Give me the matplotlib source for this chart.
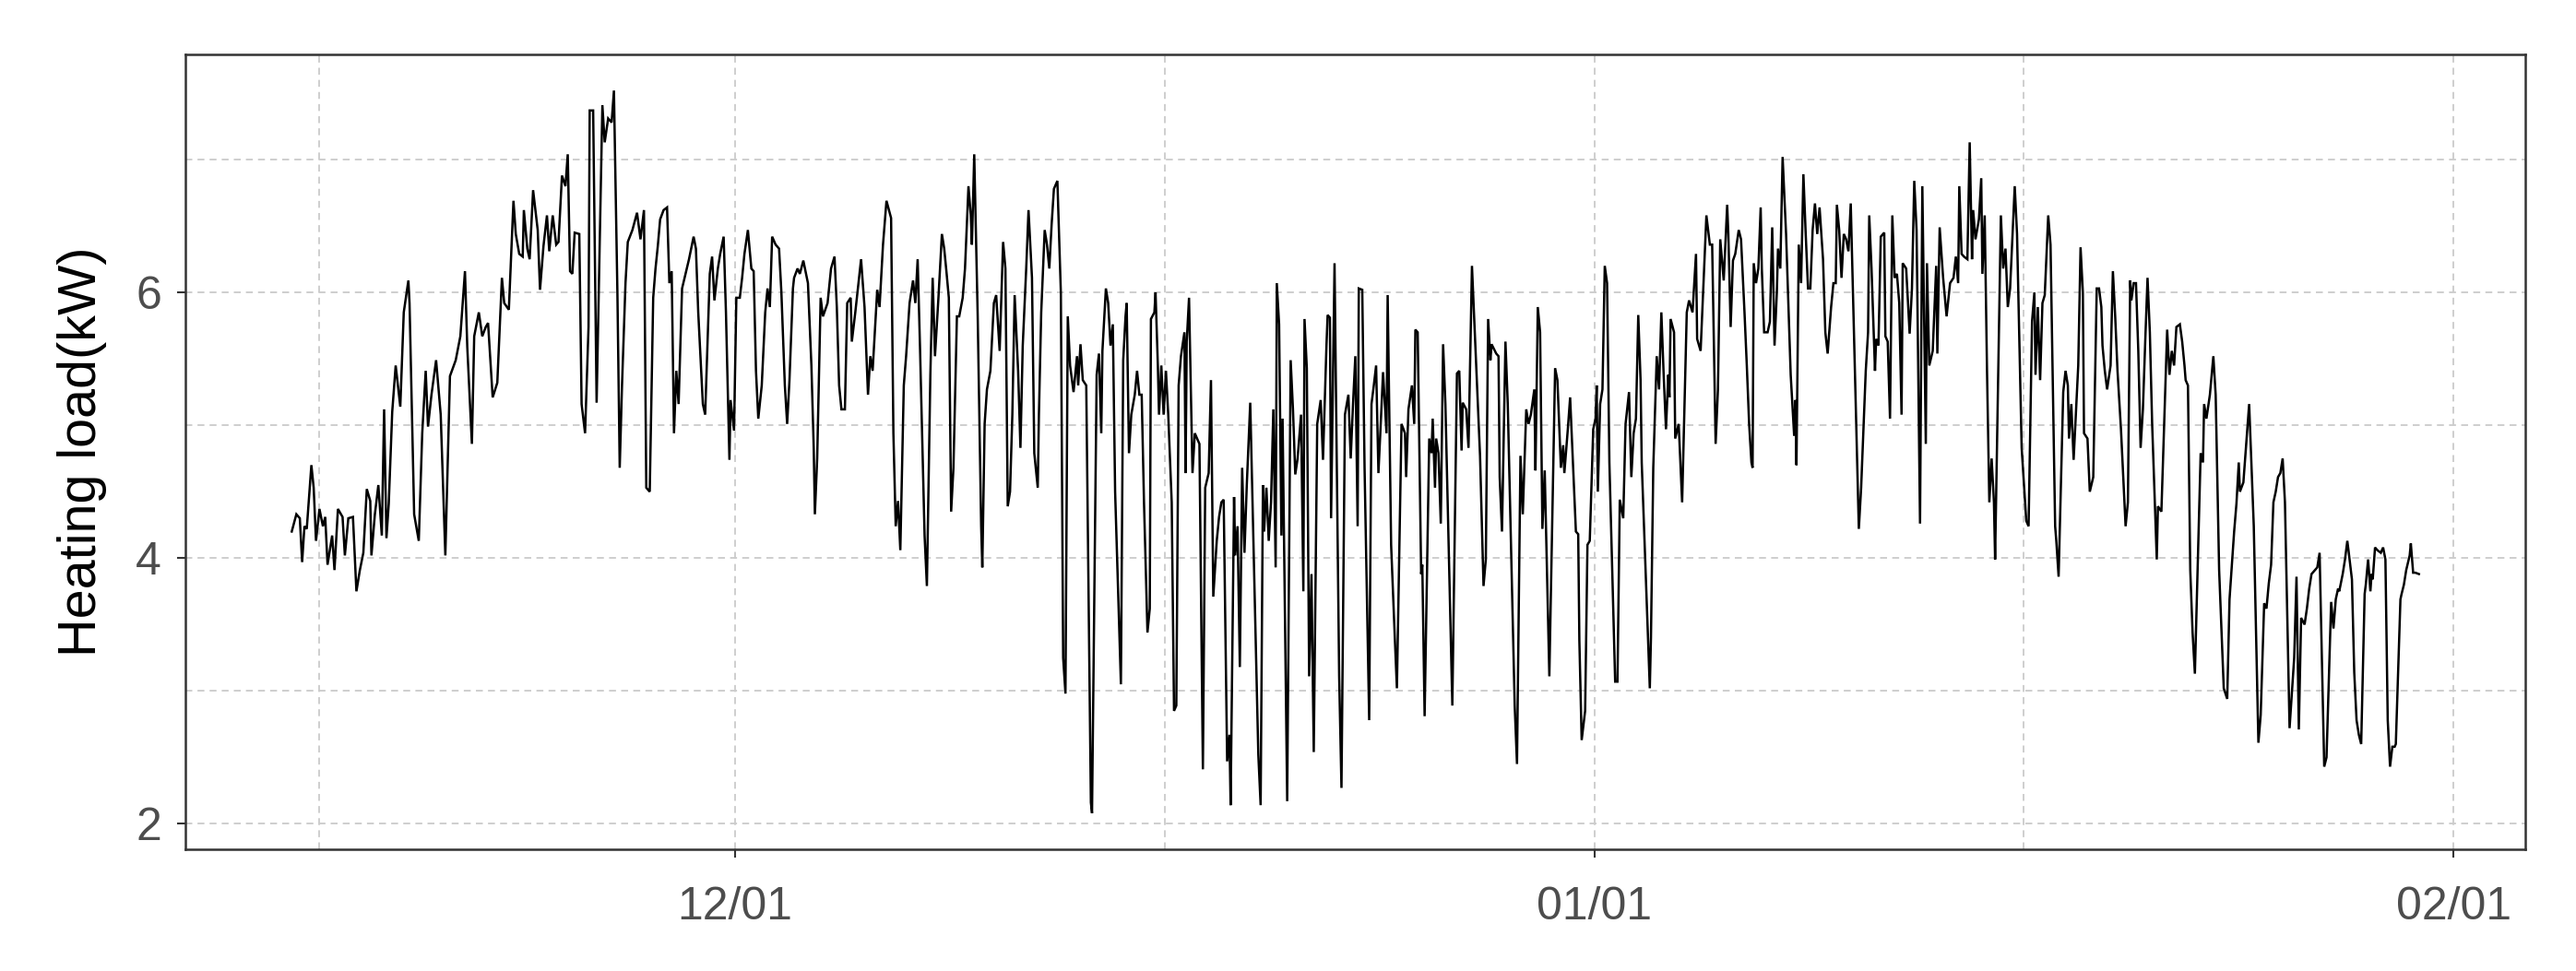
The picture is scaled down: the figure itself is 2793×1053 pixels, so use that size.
import numpy as np
import pandas as pd
import matplotlib
matplotlib.use("Agg")
import matplotlib.pyplot as plt
import matplotlib.dates as mdates
from matplotlib.ticker import FixedLocator

# ---------------- data ----------------
start_time = "2019-11-15 00:00"

hours = [
    0, 4, 7, 9, 11, 13, 17, 19, 21, 24, 27, 29, 31, 35, 37, 40, 44, 46, 49, 53, 56, 59, 62, 65, 68, 69, 72, 75, 78, 80,
    82, 84, 87, 90, 94, 97, 101, 102, 106, 110, 113, 116, 118, 121, 125, 129, 133, 137, 142, 146,
    150, 152, 156, 158, 162, 165, 168, 170, 174, 178, 182, 184, 188, 192, 194, 197, 200, 201, 204, 206, 209, 213, 215,
    218, 221, 223, 226, 229, 231, 234, 237, 239, 241, 243, 245, 249, 251, 254, 257, 258, 261, 264, 269, 271, 274, 277,
    279, 282, 284, 286, 289, 291, 295, 299, 302, 305, 307,
    310, 313, 315, 317, 319, 322, 325, 327, 329, 331, 333, 335, 338, 341, 344, 348, 350, 352, 356, 358, 362, 364, 366,
    369, 371, 374, 376, 379, 380, 383, 385, 388, 390, 392, 395, 398, 400, 402, 404, 407, 410, 412, 414, 416, 419, 422,
    424, 427, 429, 431, 434, 435, 438, 440, 443, 447, 450, 452, 453, 455, 458, 460, 464, 467,
    470, 472, 474, 476, 479, 481, 484, 485, 488, 491, 493, 496, 499, 501, 503, 507, 509, 512, 515, 519, 521, 523, 525,
    527, 530, 532, 535, 538, 540, 542, 544, 548, 550, 553, 555, 557, 560, 563, 565, 567, 569, 571, 573, 576, 578, 581,
    583, 586, 588, 589, 591, 594, 597, 598, 600, 602, 605, 608, 610, 613, 616, 618, 620, 622, 624,
    626, 629, 631, 633, 636, 638, 641, 643, 646, 647, 649, 652, 654, 656, 658, 660, 663, 666, 668, 670, 672, 674, 677,
    680, 681, 683, 685, 688, 692, 693, 697, 699, 701, 702, 705, 707, 709, 711, 713, 716, 718, 720, 722, 723, 725, 727,
    730, 732, 734, 736, 738, 741, 743, 744, 747, 748, 750, 751, 753, 755, 757, 759, 762, 764, 766, 768, 770, 773, 774,
    775, 777, 780, 782,
    786, 789, 791, 794, 796, 798, 801, 803, 805, 807, 810, 812, 813, 816, 817, 819, 821, 823, 825, 827, 830, 837, 839,
    841, 842, 844, 846, 848, 850, 852, 853, 855, 857, 858, 862, 865, 867, 869, 871, 874, 876, 877, 879, 881, 883, 885,
    888, 891, 893, 896, 897, 899, 900, 903, 907, 909, 912, 915, 917, 919, 921, 923, 924, 927, 929, 933, 935, 937, 939,
    941, 943, 945,
    948, 949, 952, 955, 957, 961, 964, 965, 967, 970, 972, 973, 975, 978, 979, 981, 985, 987, 988, 990, 991, 993, 995,
    997, 999, 1005, 1009, 1011, 1013, 1014, 1017, 1019, 1022, 1029, 1032, 1034, 1036, 1038, 1039, 1043, 1045, 1046,
    1048, 1051, 1053, 1059, 1061, 1064, 1066, 1069, 1071, 1073, 1076, 1077, 1079, 1081, 1083, 1085, 1089, 1094, 1096,
    1099, 1101, 1102, 1105,
    1107, 1112, 1114, 1115, 1117, 1120, 1122, 1124, 1127, 1129, 1130, 1131, 1133, 1135, 1137, 1139, 1141, 1146, 1148,
    1150, 1153, 1155, 1158, 1160, 1162, 1164, 1166, 1168, 1169, 1176, 1177, 1179, 1182, 1184, 1186, 1188, 1190, 1192,
    1193, 1194, 1197, 1198, 1201, 1204, 1208, 1210, 1213, 1216, 1217, 1220, 1225, 1228, 1230, 1233, 1235, 1237, 1240,
    1243, 1244, 1246, 1248, 1250, 1253, 1255, 1258, 1260, 1262, 1264,
    1265, 1266, 1268, 1270, 1272, 1273, 1275, 1278, 1280, 1282, 1284, 1286, 1287, 1289, 1291, 1294, 1298, 1301, 1302,
    1303, 1305, 1307, 1309, 1311, 1313, 1315, 1317, 1319, 1321, 1323, 1326, 1328, 1330, 1333, 1335, 1337, 1338, 1340,
    1342, 1344, 1346, 1348, 1350, 1357, 1359, 1363, 1365, 1366, 1368, 1371, 1372, 1374, 1376, 1379, 1380, 1382, 1384,
    1386, 1388, 1390, 1392, 1394, 1395, 1398, 1401, 1403, 1405, 1407, 1410, 1412, 1415, 1416, 1418, 1421, 1424,
    1425, 1427, 1430, 1433, 1436, 1439, 1441, 1443, 1444, 1446, 1448, 1451, 1453, 1455, 1456, 1458, 1461, 1463, 1464,
    1466, 1468, 1470, 1472, 1474, 1475, 1479, 1480, 1482, 1484, 1486, 1488, 1492, 1494, 1498, 1502, 1504, 1507, 1509,
    1510, 1512, 1514, 1516, 1518, 1521, 1523, 1527, 1528, 1530, 1534, 1536, 1538, 1539, 1541, 1543, 1547, 1549, 1551,
    1552, 1555, 1557, 1560, 1563, 1565, 1567, 1568, 1570, 1572, 1575, 1577, 1579, 1581, 1584,
    1588, 1590, 1592, 1593, 1595, 1597, 1599, 1601, 1603, 1605, 1607, 1609, 1611, 1615, 1616, 1619, 1624, 1626, 1628,
    1630, 1632, 1635, 1637, 1639, 1640, 1642, 1644, 1646, 1648, 1653, 1655, 1656, 1658, 1661, 1664, 1666, 1669, 1673,
    1676, 1678, 1682, 1684, 1686, 1687, 1690, 1695, 1699, 1703, 1705, 1708, 1710, 1712, 1714, 1716, 1718, 1720, 1722,
    1724, 1726, 1730, 1734, 1736, 1738, 1740, 1743,
    1745, 1747, 1749, 1752, 1754, 1756, 1760, 1762, 1766, 1768, 1770, 1772, 1773, 1776, 1778, 1780, 1781, 1784, 1786,
    1788, 1790, 1792, 1795, 1796, 1798, 1800, 1801, 1802, 1804, 1806, 1809, 1811, 1813, 1815, 1817, 1819, 1821, 1822,
    1826, 1827, 1829, 1831, 1834, 1835, 1837, 1839, 1842,
]

load_kw = [
    4.20, 4.33, 4.30, 3.97, 4.24, 4.22, 4.70, 4.53, 4.13, 4.37, 4.24, 4.31, 3.95, 4.17, 3.91, 4.37, 4.31, 4.02, 4.30,
    4.31, 3.75, 3.91, 4.04, 4.52, 4.43, 4.02, 4.33, 4.55, 4.17, 5.12, 4.15, 4.41, 5.10, 5.45, 5.14, 5.85, 6.09, 5.92,
    4.33, 4.13, 4.94, 5.41, 4.99, 5.23, 5.49, 5.08, 4.02, 5.37, 5.49, 5.67,
    6.16, 5.59, 4.86, 5.67, 5.85, 5.67, 5.74, 5.77, 5.21, 5.32, 6.11, 5.92, 5.87, 6.69, 6.44, 6.29, 6.27, 6.62, 6.33,
    6.25, 6.77, 6.47, 6.02, 6.35, 6.58, 6.31, 6.58, 6.36, 6.38, 6.88, 6.80, 7.04, 6.16, 6.14, 6.45, 6.44, 5.16, 4.94,
    5.74, 7.37, 7.37, 5.17, 7.41, 7.13, 7.31, 7.28, 7.52, 6.00, 4.68, 5.30, 6.07, 6.38, 6.47, 6.60, 6.40, 6.62, 4.53,
    4.50, 5.96, 6.18, 6.35, 6.55, 6.62, 6.64, 6.07, 6.16, 4.94, 5.41, 5.16, 6.03, 6.14, 6.25, 6.42, 6.33, 5.85, 5.16,
    5.08, 6.14, 6.27, 5.94, 6.18, 6.29, 6.42, 5.85, 4.74, 5.19, 4.96, 5.96, 5.96, 6.11, 6.29, 6.47, 6.18, 6.16, 5.41,
    5.05, 5.30, 5.85, 6.03, 5.89, 6.42, 6.36, 6.33, 6.00, 5.30, 5.01, 5.34, 6.03, 6.11, 6.18, 6.14, 6.24, 6.07, 5.45,
    4.83, 4.33, 4.75, 5.96, 5.82, 5.92, 6.18,
    6.27, 5.89, 5.30, 5.12, 5.12, 5.92, 5.96, 5.63, 5.85, 6.09, 6.25, 5.89, 5.23, 5.52, 5.41, 6.02, 5.89, 6.36, 6.69,
    6.56, 4.94, 4.24, 4.43, 4.06, 5.30, 5.52, 5.92, 6.09, 5.92, 6.25, 5.60, 4.17, 3.79, 5.38, 6.11, 5.52, 5.96, 6.44,
    6.33, 6.15, 5.96, 4.35, 4.68, 5.82, 5.82, 5.96, 6.18, 6.80, 6.58, 6.36, 7.04, 5.82, 4.24, 3.93, 5.01, 5.27, 5.41,
    5.92, 5.98, 5.56, 6.38, 6.18, 4.39, 4.50, 5.08,
    5.98, 5.41, 4.83, 5.60, 6.18, 6.62, 6.11, 4.79, 4.53, 5.08, 5.85, 6.47, 6.36, 6.18, 6.51, 6.78, 6.84, 6.00, 3.25,
    2.98, 5.82, 5.45, 5.25, 5.52, 5.30, 5.61, 5.34, 5.30, 2.16, 2.08, 5.38, 5.54, 4.94, 5.56, 6.03, 5.92, 5.60, 5.76,
    4.50, 3.62, 3.05, 5.49, 5.82, 5.92, 4.79, 5.08, 5.23, 5.41, 5.23, 5.23, 4.42, 3.44, 3.62, 5.80, 5.85, 6.00, 5.45,
    5.08, 5.45, 5.08, 5.41, 5.08, 4.42, 2.85, 2.89, 5.30, 5.52, 5.70, 4.64, 5.63, 5.96, 4.64, 4.94,
    4.86, 2.41, 4.53, 4.64, 5.34, 3.71, 4.13, 4.31, 4.42, 4.44, 2.47, 2.67, 2.14, 4.46, 4.02, 4.24, 3.18, 4.68, 4.04,
    4.55, 5.17, 2.52, 2.14, 4.55, 4.20, 4.53, 4.13, 4.42, 5.12, 3.93, 6.07, 5.76, 4.17, 5.05, 2.17, 5.49, 5.12, 4.63,
    4.75, 5.08, 3.75, 5.80, 5.43, 3.11, 3.88, 2.54, 5.01, 5.19, 4.74, 5.60, 5.83, 5.81, 4.30, 6.22, 3.11, 2.27, 5.08,
    5.23, 4.75, 5.16, 5.52, 4.24, 6.03, 6.02, 4.68, 2.78, 5.16, 5.30, 5.45, 4.64, 5.01, 5.40,
    4.94, 5.98, 4.10, 3.44, 3.02, 5.01, 4.94, 4.61, 5.12, 5.30, 5.01, 5.72, 5.70, 3.88, 3.95, 2.81, 4.90, 4.79, 5.05,
    4.53, 4.90, 4.79, 4.26, 5.61, 5.16, 2.89, 5.39, 5.41, 4.81, 5.17, 5.12, 4.83, 6.20, 4.77, 3.79, 3.99, 5.80, 5.49,
    5.61, 5.54, 5.52, 4.61, 4.20, 5.63, 5.16, 2.89, 2.45, 4.77, 4.33, 5.12, 5.01, 5.08, 5.27, 4.66, 5.89, 5.70, 4.22,
    4.66, 3.11, 5.43, 5.34, 4.68, 4.85, 4.64, 4.97,
    5.21, 4.20, 4.18, 3.38, 2.63, 2.85, 4.10, 4.13, 4.97, 5.05, 5.30, 4.50, 5.16, 5.27, 6.20, 6.07, 4.72, 3.07, 3.07,
    4.44, 4.30, 5.01, 5.25, 4.61, 4.94, 5.05, 5.83, 5.34, 4.72, 3.02, 3.40, 4.68, 5.52, 5.27, 5.85, 5.38, 4.97, 5.38,
    5.21, 5.80, 5.70, 4.90, 5.01, 4.42, 5.85, 5.94, 5.85, 6.29, 5.65, 5.56, 6.58, 6.36, 6.36, 4.86, 5.27, 6.40, 6.09,
    6.66, 6.44, 5.74, 6.24, 6.29, 6.47, 6.40, 5.85, 5.45, 5.01, 4.72,
    4.68, 6.22, 6.07, 6.18, 6.64, 6.18, 5.70, 5.70, 5.78, 6.49, 5.60, 6.00, 6.33, 6.18, 7.02, 6.44, 5.38, 4.92, 5.19,
    4.70, 6.36, 6.07, 6.89, 6.44, 6.03, 6.03, 6.47, 6.67, 6.44, 6.64, 6.25, 5.70, 5.54, 5.89, 6.07, 6.07, 6.66, 6.47,
    6.11, 6.44, 6.40, 6.31, 6.67, 4.22, 4.53, 5.41, 5.70, 6.58, 6.18, 5.41, 5.65, 5.60, 6.42, 6.45, 5.67, 5.63, 5.05,
    6.58, 6.11, 6.14, 5.92, 5.08, 6.22, 6.18, 5.69, 6.03, 6.84, 6.47, 4.26, 6.80, 4.86, 6.22, 5.45, 5.56, 6.20,
    5.54, 6.49, 6.11, 5.82, 6.07, 6.11, 6.27, 6.07, 6.80, 6.29, 6.27, 6.25, 7.13, 6.25, 6.62, 6.40, 6.55, 6.86, 6.14,
    6.58, 5.41, 4.42, 4.75, 4.42, 3.99, 6.07, 6.58, 6.18, 6.33, 5.89, 6.03, 6.80, 6.44, 4.83, 4.28, 4.24, 5.78, 6.00,
    5.38, 5.89, 5.34, 5.92, 5.98, 6.58, 6.36, 4.24, 4.13, 3.86, 5.25, 5.41, 5.30, 4.90, 5.16, 4.74, 5.45, 6.34, 6.00,
    4.94, 4.90, 4.50, 4.61, 6.03, 6.03, 5.89, 5.60, 5.41, 5.27, 5.45, 6.16, 5.82, 5.41, 4.97,
    4.24, 4.42, 6.09, 5.94, 6.07, 6.07, 5.56, 4.83, 5.12, 5.63, 6.11, 5.70, 5.01, 3.99, 4.39, 4.35, 5.72, 5.38, 5.56,
    5.45, 5.74, 5.76, 5.63, 5.45, 5.34, 5.30, 3.91, 3.44, 3.13, 4.79, 4.72, 5.16, 5.05, 5.23, 5.52, 5.23, 3.91, 3.02,
    2.94, 3.69, 4.20, 4.41, 4.72, 4.50, 4.57, 5.16, 4.24, 2.61, 2.82, 3.66, 3.62, 3.81, 3.95, 4.42, 4.50, 4.61, 4.64,
    4.75, 4.42, 2.72, 3.25, 3.86, 2.71, 3.55, 3.50,
    3.62, 3.77, 3.88, 3.91, 3.93, 4.04, 2.43, 2.50, 3.67, 3.47, 3.69, 3.77, 3.75, 3.88, 3.99, 4.13, 4.06, 3.84, 3.14,
    2.78, 2.67, 2.60, 3.73, 3.80, 3.99, 3.75, 3.88, 3.84, 4.08, 4.06, 4.04, 4.08, 3.99, 2.78, 2.43, 2.58, 2.58, 2.60,
    3.69, 3.73, 3.80, 3.91, 4.02, 4.11, 3.89, 3.89, 3.88,
]

x_breaks = ["2019-12-01", "2020-01-01", "2020-02-01"]
x_minor_breaks = ["2019-11-16 00:00", "2019-12-16 12:00", "2020-01-16 12:00"]
y_breaks = [2, 4, 6]
y_minor_breaks = [3, 5, 7]
y_title = "Heating load(kW)"

# ---------------- figure ----------------
assert len(hours) == len(load_kw)
time = pd.Timestamp(start_time) + pd.to_timedelta(hours, unit="h")
load = np.asarray(load_kw, dtype=float)

W, H, DPI = 2793, 1053, 300
fig = plt.figure(figsize=(W / DPI, H / DPI), dpi=DPI)
left, right, top, bottom = 201, 2738, 59, 921
ax = fig.add_axes([left / W, 1 - bottom / H, (right - left) / W, (bottom - top) / H])

ax.plot(time, load, color="black", lw=0.6, solid_joinstyle="miter")

# ggplot-like 5% expansion
t0, t1 = time.min(), time.max()
pad_t = (t1 - t0) * 0.05
ax.set_xlim(t0 - pad_t, t1 + pad_t)
pad_y = (load.max() - load.min()) * 0.05
ax.set_ylim(load.min() - pad_y, load.max() + pad_y)

ax.xaxis.set_major_locator(FixedLocator(mdates.date2num(pd.to_datetime(x_breaks))))
ax.xaxis.set_minor_locator(FixedLocator(mdates.date2num(pd.to_datetime(x_minor_breaks))))
ax.xaxis.set_major_formatter(mdates.DateFormatter("%m/%d"))
ax.yaxis.set_major_locator(FixedLocator(y_breaks))
ax.yaxis.set_minor_locator(FixedLocator(y_minor_breaks))

grid_kw = dict(color="#CCCCCC", linewidth=0.45, linestyle=(0, (4, 3)))
ax.grid(True, which="both", axis="both", **grid_kw)
ax.set_axisbelow(True)

for s in ax.spines.values():
    s.set_color("#333333")
    s.set_linewidth(0.6)

font = "Liberation Sans"
ax.tick_params(which="major", length=2.2, width=0.5, color="#333333",
               labelsize=12, labelcolor="#4D4D4D")
ax.tick_params(axis="x", which="major", pad=7.3)
ax.tick_params(axis="y", which="major", pad=4)
ax.tick_params(which="minor", length=0)
for lab in ax.get_xticklabels() + ax.get_yticklabels():
    lab.set_fontfamily(font)

ax.set_ylabel(y_title, fontsize=13.8, fontfamily=font, color="black")
ax.yaxis.set_label_coords(-0.0335, 0.5)

fig.savefig("out.png", dpi=DPI)
